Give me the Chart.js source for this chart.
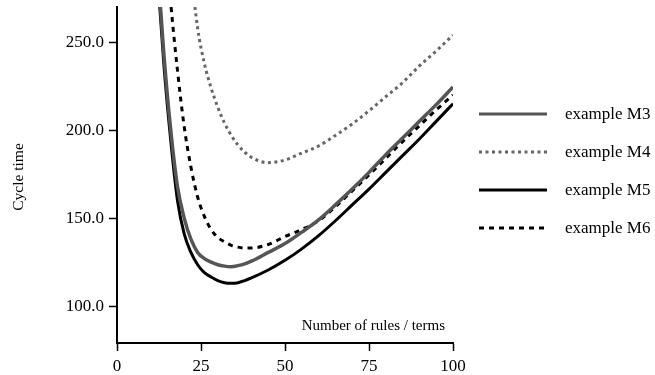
<!DOCTYPE html>
<html>
<head>
<meta charset="utf-8">
<script src="https://cdn.jsdelivr.net/npm/chart.js@4/dist/chart.umd.min.js"></script>
<style>
  html, body { margin: 0; padding: 0; background: #fff; }
  #wrap { width: 655px; height: 375px; }
</style>
</head>
<body>
<div id="wrap"><canvas id="chart"></canvas></div>
<script>
const xs = [10, 12, 14, 16, 18, 20, 22, 24, 26, 28, 30, 32, 34, 36, 38, 40, 45, 50, 55, 60, 65, 70, 75, 80, 85, 90, 95, 100];
const m3 = [350, 295, 242, 200, 168, 150, 138, 130.5, 127, 125, 123.5, 122.7, 122.4, 123, 124, 125.5, 130.5, 135.5, 142, 149, 157.5, 166.5, 176, 186, 195.5, 205, 214.5, 224.5];
const m4 = [null, null, null, null, null, 340, 292, 258, 238, 224, 213, 204, 197, 191.5, 187.5, 184.5, 181.5, 183, 187, 191, 197, 203.5, 211, 219, 227, 236.5, 245, 254];
const m5 = [345, 290, 236, 194, 160, 141, 130.5, 123.5, 119, 116.5, 114.5, 113.3, 113, 113.3, 114.5, 116, 120.5, 126, 132.5, 140, 148.5, 157.5, 166.5, 176, 185.5, 195, 205, 215];
const m6 = [480, 385, 318, 272, 234, 202, 179, 162, 151, 143.5, 139, 136.5, 134.5, 133.5, 133, 133, 135, 139.5, 143.5, 148.5, 156.5, 165.5, 174.5, 184, 193.5, 202.5, 211.5, 220];
const seriesNames = ['example M3', 'example M4', 'example M5', 'example M6'];
const xTicks = [0, 25, 50, 75, 100];
const yTicks = [100, 150, 200, 250];

const SERIF = '"Liberation Serif", "Times New Roman", serif';
const pts = arr => xs.map((x, i) => ({ x: x, y: arr[i] }));

const styles = [
  { color: '#555555', dash: [], width: 3.5 },
  { color: '#666666', dash: [3, 3.5], width: 3 },
  { color: '#000000', dash: [], width: 3 },
  { color: '#000000', dash: [5, 5], width: 3 }
];
const values = [m3, m4, m5, m6];

const datasets = values.map((v, i) => ({
  label: seriesNames[i],
  data: pts(v),
  borderColor: styles[i].color,
  borderDash: styles[i].dash,
  borderWidth: styles[i].width,
  pointRadius: 0,
  fill: false,
  cubicInterpolationMode: 'monotone',
  clip: 0
}));

// legend + axis titles drawn by hand
const extras = {
  id: 'extras',
  afterDraw(chart) {
    const ctx = chart.ctx;
    const area = chart.chartArea;
    ctx.save();
    ctx.fillStyle = '#000';

    ctx.font = '15px ' + SERIF;
    ctx.textAlign = 'right';
    ctx.textBaseline = 'middle';
    ctx.fillText('Number of rules / terms', area.right - 8, 326);

    ctx.save();
    ctx.translate(19, 177);
    ctx.rotate(-Math.PI / 2);
    ctx.textAlign = 'center';
    ctx.font = '15.5px ' + SERIF;
    ctx.fillText('Cycle time', 0, 0);
    ctx.restore();

    ctx.font = '17px ' + SERIF;
    ctx.textAlign = 'left';
    chart.data.datasets.forEach((ds, i) => {
      const y = 114 + i * 38;
      ctx.beginPath();
      ctx.strokeStyle = ds.borderColor;
      ctx.lineWidth = 3;
      ctx.setLineDash(ds.borderDash);
      ctx.moveTo(479, y);
      ctx.lineTo(547, y);
      ctx.stroke();
      ctx.setLineDash([]);
      ctx.fillText(ds.label, 565, y + 1);
    });
    ctx.restore();
  }
};

new Chart(document.getElementById('chart'), {
  type: 'line',
  data: { datasets: datasets },
  plugins: [extras],
  options: {
    responsive: true,
    maintainAspectRatio: false,
    animation: false,
    layout: { padding: { top: 7, right: 202, left: 0, bottom: 0 } },
    plugins: { legend: { display: false }, tooltip: { enabled: false } },
    scales: {
      x: {
        type: 'linear',
        min: 0,
        max: 100,
        afterBuildTicks: s => { s.ticks = xTicks.map(v => ({ value: v })); },
        afterFit: s => { s.height = 32; s.paddingLeft = 0; s.paddingRight = 0; },
        border: { display: true, color: '#000', width: 2 },
        grid: { drawOnChartArea: false, drawTicks: true, tickLength: 8, tickWidth: 1.5, tickColor: '#000' },
        ticks: { color: '#000', padding: 5, maxRotation: 0, font: { family: SERIF, size: 17 } }
      },
      y: {
        min: 79,
        max: 270,
        afterBuildTicks: s => { s.ticks = yTicks.map(v => ({ value: v })); },
        afterFit: s => { s.width = 117; s.paddingTop = 0; s.paddingBottom = 0; },
        border: { display: true, color: '#000', width: 2 },
        grid: { drawOnChartArea: false, drawTicks: true, tickLength: 8, tickWidth: 1.5, tickColor: '#000' },
        ticks: { color: '#000', padding: 5, font: { family: SERIF, size: 17 }, callback: v => v.toFixed(1) }
      }
    }
  }
});
</script>
</body>
</html>
